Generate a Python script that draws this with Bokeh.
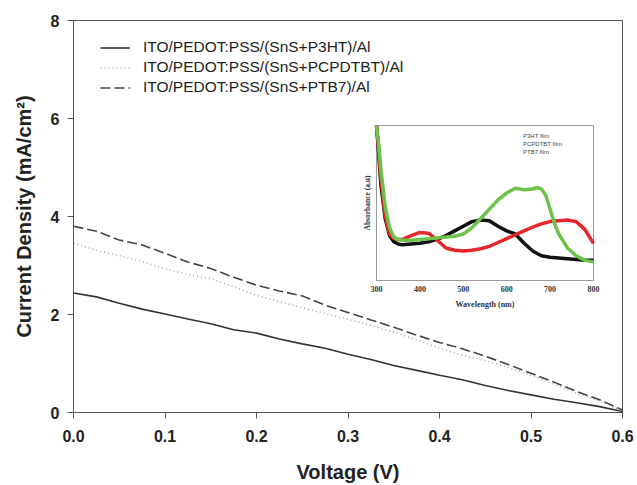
import math
from bokeh.plotting import figure
from bokeh.models import (Range1d, FixedTicker, PrintfTickFormatter, Legend, LegendItem)
from bokeh.core.properties import value
from bokeh.embed import file_html
from bokeh.resources import INLINE

# ---------------- data: J-V curves ----------------
voltage = [0.000, 0.025, 0.050, 0.075, 0.100, 0.125, 0.150, 0.175, 0.200, 0.225,
           0.250, 0.275, 0.300, 0.325, 0.350, 0.375, 0.400, 0.425, 0.450, 0.475,
           0.500, 0.525, 0.550, 0.575, 0.600]
j_p3ht = [2.44, 2.36, 2.23, 2.11, 2.01, 1.91, 1.81, 1.69, 1.62, 1.50,
          1.40, 1.31, 1.19, 1.08, 0.96, 0.86, 0.76, 0.67, 0.55, 0.45,
          0.36, 0.27, 0.20, 0.12, 0.02]
j_pcpdtbt = [3.46, 3.31, 3.20, 3.08, 2.93, 2.82, 2.73, 2.57, 2.39, 2.26,
             2.14, 2.02, 1.90, 1.78, 1.64, 1.48, 1.31, 1.17, 1.06, 0.92,
             0.76, 0.58, 0.39, 0.23, 0.03]
j_ptb7 = [3.80, 3.70, 3.52, 3.42, 3.25, 3.07, 2.94, 2.76, 2.60, 2.48,
          2.38, 2.19, 2.04, 1.89, 1.74, 1.58, 1.43, 1.30, 1.15, 0.98,
          0.80, 0.62, 0.43, 0.26, 0.05]
series_labels = ["ITO/PEDOT:PSS/(SnS+P3HT)/Al",
                 "ITO/PEDOT:PSS/(SnS+PCPDTBT)/Al",
                 "ITO/PEDOT:PSS/(SnS+PTB7)/Al"]
x_ticks = [0.0, 0.1, 0.2, 0.3, 0.4, 0.5, 0.6]
y_ticks = [0, 2, 4, 6, 8]

# ---------------- data: inset absorbance ----------------
wl = [300, 305, 310, 320, 330, 340, 350, 360, 380, 400, 420, 440, 460, 480, 500,
      520, 540, 560, 580, 600, 620, 640, 660, 680, 700, 720, 740, 760, 780, 800]
abs_p3ht = [1.00, 0.82, 0.62, 0.40, 0.29, 0.25, 0.235, 0.23, 0.235, 0.24, 0.25, 0.265,
            0.29, 0.32, 0.35, 0.38, 0.39, 0.385, 0.35, 0.32, 0.30, 0.24, 0.19, 0.16,
            0.15, 0.145, 0.14, 0.135, 0.13, 0.13]
abs_pcpdtbt = [1.00, 0.85, 0.66, 0.42, 0.30, 0.27, 0.265, 0.265, 0.29, 0.31, 0.305, 0.26,
               0.21, 0.195, 0.19, 0.195, 0.205, 0.22, 0.245, 0.27, 0.295, 0.32, 0.345,
               0.365, 0.38, 0.385, 0.39, 0.38, 0.33, 0.24]
wl_ptb7 = [300, 305, 310, 320, 330, 340, 350, 360, 380, 400, 420, 440, 460, 480, 500,
           520, 540, 560, 580, 600, 620, 640, 660, 670, 680, 690, 700, 710, 720, 740,
           760, 780, 800]
abs_ptb7 = [1.00, 0.88, 0.72, 0.48, 0.34, 0.28, 0.265, 0.26, 0.26, 0.265, 0.27, 0.275,
            0.28, 0.285, 0.30, 0.34, 0.40, 0.46, 0.52, 0.565, 0.595, 0.585, 0.59, 0.60,
            0.59, 0.55, 0.46, 0.37, 0.30, 0.21, 0.16, 0.13, 0.12]
inset_labels = ["P3HT film", "PCPDTBT film", "PTB7 film"]
inset_x_ticks = [300, 400, 500, 600, 700, 800]
inset_x_lim = [300, 800]
inset_y_lim = [0, 1]

# ---------------- layout constants (pixels) ----------------
FW, FH = 549, 392                 # main frame size
INSET_L, INSET_R = 303, 520       # inset box x-offsets from frame left
INSET_T, INSET_B = 105, 260       # inset box y-offsets from frame top

kx = (inset_x_lim[1] - inset_x_lim[0]) / (INSET_R - INSET_L)
ky = (inset_y_lim[1] - inset_y_lim[0]) / (INSET_B - INSET_T)
wl_range = Range1d(inset_x_lim[0] - INSET_L * kx, inset_x_lim[1] + (FW - INSET_R) * kx)
ab_range = Range1d(inset_y_lim[0] - (FH - INSET_B) * ky, inset_y_lim[1] + INSET_T * ky)

p = figure(frame_width=FW, frame_height=FH, output_backend="svg", toolbar_location=None,
           x_range=Range1d(0, 0.6), y_range=Range1d(0, 8),
           min_border_left=73, min_border_top=20, min_border_right=15, min_border_bottom=73)
p.extra_x_ranges = {"wl": wl_range}
p.extra_y_ranges = {"ab": ab_range}
p.grid.visible = False
p.outline_line_color = "#555555"
p.outline_line_width = 1
p.background_fill_color = "white"
p.border_fill_color = "white"

AX = "#555555"
for ax in (p.xaxis[0], p.yaxis[0]):
    ax.axis_line_color = AX
    ax.major_tick_line_color = AX
    ax.minor_tick_line_color = None
    ax.major_tick_in = 0
    ax.major_tick_out = 6
    ax.major_label_text_font = "Liberation Sans"
    ax.major_label_text_font_style = "bold"
    ax.major_label_text_font_size = "16px"
    ax.major_label_text_color = "#222222"
    ax.axis_label_text_font = "Liberation Sans"
    ax.axis_label_text_font_style = "bold"
    ax.axis_label_text_font_size = "20px"
    ax.axis_label_text_color = "#222222"

p.xaxis.ticker = FixedTicker(ticks=x_ticks)
p.xaxis.formatter = PrintfTickFormatter(format="%.1f")
p.yaxis.ticker = FixedTicker(ticks=y_ticks)
p.yaxis.formatter = PrintfTickFormatter(format="%d")
p.xaxis.axis_label = "Voltage (V)"
p.yaxis.axis_label = "Current Density (mA/cm²)"
p.xaxis.major_label_standoff = 11
p.xaxis.axis_label_standoff = 16
p.yaxis.major_label_standoff = 8
p.yaxis.axis_label_standoff = 13

# main curves
r1 = p.line(voltage, j_p3ht, line_color="#333333", line_width=1.6)
r2 = p.line(voltage, j_pcpdtbt, line_color="#aaaaaa", line_width=1.6, line_dash="1 3")
r3 = p.line(voltage, j_ptb7, line_color="#444444", line_width=1.6, line_dash="10 4")

legend = Legend(items=[LegendItem(label=series_labels[0], renderers=[r1]),
                       LegendItem(label=series_labels[1], renderers=[r2]),
                       LegendItem(label=series_labels[2], renderers=[r3])],
                location=(27, 316), border_line_color=None, background_fill_alpha=0,
                padding=0, margin=0, spacing=2, glyph_width=30, glyph_height=17,
                label_height=17, label_standoff=13, label_text_font="Liberation Sans",
                label_text_font_size="15.5px", label_text_color="#222222")
p.add_layout(legend, "center")

# ---------------- inset ----------------
R = dict(x_range_name="wl", y_range_name="ab")
p.quad(left=[inset_x_lim[0]], right=[inset_x_lim[1]], bottom=[inset_y_lim[0]],
       top=[inset_y_lim[1]], fill_color="white", line_color="#9a9a9a", line_width=1, **R)

C_BLACK, C_RED, C_GREEN = "#111111", "#e8262a", "#6cc24a"
p.line(wl, abs_p3ht, line_color=C_BLACK, line_width=3.5, **R)
p.line(wl, abs_pcpdtbt, line_color=C_RED, line_width=3.5, **R)
p.line(wl_ptb7, abs_ptb7, line_color=C_GREEN, line_width=3.5, **R)

p.text(x=inset_x_ticks, y=[inset_y_lim[0]] * len(inset_x_ticks),
       text=[str(t) for t in inset_x_ticks], text_align="center", text_baseline="top",
       y_offset=5, text_font=value("Liberation Serif"), text_font_style="bold",
       text_font_size="8px", text_color="#333333", **R)
p.text(x=[sum(inset_x_lim) / 2], y=[inset_y_lim[0]], text=["Wavelength (nm)"],
       text_align="center", text_baseline="top", y_offset=19,
       text_font=value("Liberation Serif"), text_font_style="bold",
       text_font_size="8px", text_color="#333333", **R)
p.text(x=[inset_x_lim[0]], y=[sum(inset_y_lim) / 2], text=["Absorbance (a.u)"],
       angle=math.pi / 2, text_align="center", text_baseline="middle", x_offset=-9,
       text_font=value("Liberation Serif"), text_font_style="bold",
       text_font_size="7.5px", text_color="#333333", **R)

# inset legend (legend-only renderers with no data)
items = []
for lab, col in zip(inset_labels, [C_BLACK, C_RED, C_GREEN]):
    lw = 1.6 if col != C_GREEN else 2.2
    rl = p.line(x=[], y=[], line_color=col, line_width=lw, **R)
    rs = p.scatter(x=[], y=[], marker="circle", size=4, fill_color="white",
                   line_color=col, line_width=1, **R)
    items.append(LegendItem(label=lab, renderers=[rl, rs]))
inset_legend = Legend(items=items, location=(427, 257), border_line_color=None,
                      background_fill_alpha=0, padding=0, margin=0, spacing=1,
                      glyph_width=18, glyph_height=7, label_height=7, label_standoff=5,
                      label_text_font="Liberation Sans", label_text_font_size="6px",
                      label_text_color="#444444")
p.add_layout(inset_legend, "center")

open("out.html", "w").write(file_html(p, INLINE))
